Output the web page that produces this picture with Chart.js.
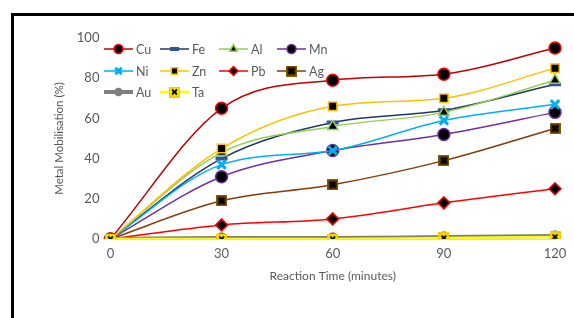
<!DOCTYPE html>
<html>
<head>
<meta charset="utf-8">
<script src="https://cdn.jsdelivr.net/npm/chart.js@4/dist/chart.umd.min.js"></script>
<style>
  html, body { margin: 0; padding: 0; background: #fff; }
  #wrap { position: relative; width: 574px; height: 318px; overflow: hidden; }
  #frame { position: absolute; left: 11px; top: 13px; width: 600px; height: 400px; border-left: 3px solid #000; border-top: 3px solid #000; }
  #c { position: absolute; left: 0; top: 0; }
</style>
</head>
<body>
<div id="wrap">
  <div id="frame"></div>
  <canvas id="c" width="574" height="318"></canvas>
</div>
<script>
// reaction time categories (minutes)
const times = ['0', '30', '60', '90', '120'];

// metal mobilisation (%) per metal
const cu = [0, 65, 79, 82, 95];
const fe = [0, 40, 58, 64, 77];
const al = [0, 43, 56, 63, 79];
const mn = [0, 31, 44, 52, 63];
const ni = [0, 37, 44, 59, 67];
const zn = [0, 45, 66, 70, 85];
const pb = [0, 7, 10, 18, 25];
const ag = [0, 19, 27, 39, 55];
const au = [0, 0.5, 0.5, 1, 1.5];
const ta = [0, 0, 0, 0.5, 1];

const yTicks = [0, 20, 40, 60, 80, 100];

// square marker with an x through it (Excel style)
function boxX(fill, border, cross, size) {
    const cv = document.createElement('canvas');
    cv.width = size; cv.height = size;
    const g = cv.getContext('2d');
    g.fillStyle = border;
    g.fillRect(0, 0, size, size);
    g.fillStyle = fill;
    g.fillRect(1.5, 1.5, size - 3, size - 3);
    g.strokeStyle = cross;
    g.lineWidth = 2;
    g.beginPath();
    g.moveTo(3, 3); g.lineTo(size - 3, size - 3);
    g.moveTo(size - 3, 3); g.lineTo(3, size - 3);
    g.stroke();
    return cv;
}

function series(label, data, color, opts) {
    return Object.assign({
        label: label,
        data: data,
        borderColor: color,
        borderWidth: 1.5,
        pointStyle: 'circle',
        pointRadius: 6,
        pointBackgroundColor: '#000',
        pointBorderColor: color,
        pointBorderWidth: 1.5,
        tension: 0.4,
        cubicInterpolationMode: 'monotone',
        fill: false
    }, opts || {});
}

const datasets = [
    series('Cu', cu, '#C00000', { pointBorderColor: '#FF0000' }),
    series('Fe', fe, '#1F3864', { pointStyle: 'line', pointRadius: 6, pointBorderWidth: 4, pointBorderColor: '#2F5597' }),
    series('Al', al, '#92D050', { pointStyle: 'triangle', pointRadius: 6 }),
    series('Mn', mn, '#7030A0'),
    series('Ni', ni, '#00B0F0', { pointStyle: 'crossRot', pointRadius: 6, pointBorderWidth: 3, pointBorderColor: '#00B0F0' }),
    series('Zn', zn, '#FFC000', { pointStyle: 'rect', pointRadius: 6 }),
    series('Pb', pb, '#FF0000', { pointStyle: 'rectRot', pointRadius: 6 }),
    series('Ag', ag, '#843C0C', { pointStyle: boxX('#3A1A05', '#7F6000', '#000', 11), pointRadius: 6 }),
    series('Au', au, '#7F7F7F', { borderWidth: 4, pointBackgroundColor: '#7F7F7F', pointBorderColor: '#7F7F7F', pointRadius: 5 }),
    series('Ta', ta, '#FFFF00', { borderWidth: 2.5, pointStyle: boxX('#FFFF00', '#FFC000', '#000', 11), pointRadius: 6 })
];
// Excel draws later series on top
datasets.forEach((d, i) => { d.order = datasets.length - i; });

// legend drawn inside the plot area, 4 per row
const insideLegend = {
    id: 'insideLegend',
    afterDraw(chart) {
        const ctx = chart.ctx;
        const colX = [104, 160, 219, 277];
        const rowY = [49, 71, 92];
        ctx.save();
        ctx.font = '12.5px Lato, "Open Sans", sans-serif';
        ctx.textBaseline = 'middle';
        chart.data.datasets.forEach((ds, i) => {
            const x = colX[i % 4];
            const y = rowY[Math.floor(i / 4)];
            ctx.strokeStyle = ds.borderColor;
            ctx.lineWidth = ds.borderWidth;
            ctx.beginPath();
            ctx.moveTo(x, y);
            ctx.lineTo(x + 29, y);
            ctx.stroke();
            ctx.fillStyle = ds.pointBackgroundColor;
            ctx.strokeStyle = ds.pointBorderColor;
            ctx.lineWidth = ds.pointBorderWidth;
            Chart.helpers.drawPoint(ctx, {
                pointStyle: ds.pointStyle,
                radius: ds.pointRadius - 1.5,
                borderWidth: ds.pointBorderWidth,
                rotation: 0
            }, x + 14.5, y);
            ctx.fillStyle = '#595959';
            ctx.fillText(ds.label, x + 32, y + 1);
        });
        ctx.restore();
    }
};

new Chart(document.getElementById('c'), {
    type: 'line',
    data: { labels: times, datasets: datasets },
    plugins: [insideLegend],
    options: {
        responsive: false,
        animation: false,
        layout: { padding: { left: 52, right: 19, top: 38, bottom: 35 } },
        plugins: { legend: { display: false }, tooltip: { enabled: false } },
        scales: {
            x: {
                offset: false,
                grid: { display: false, drawTicks: false },
                border: { display: true, color: '#D9D9D9' },
                ticks: { color: '#595959', font: { family: 'Lato', size: 13 }, padding: 7 },
                title: { display: true, text: 'Reaction Time (minutes)', color: '#595959', font: { family: 'Lato', size: 12 }, padding: 0 }
            },
            y: {
                min: 0, max: 100,
                afterBuildTicks(axis) { axis.ticks = yTicks.map(v => ({ value: v })); },
                grid: { display: false, drawTicks: false },
                border: { display: false },
                ticks: { color: '#595959', font: { family: 'Lato', size: 13 }, padding: 11 },
                title: { display: true, text: 'Metal Mobilisation (%)', color: '#595959', font: { family: 'Lato', size: 11.5 }, padding: 0 }
            }
        }
    }
});
</script>
</body>
</html>
